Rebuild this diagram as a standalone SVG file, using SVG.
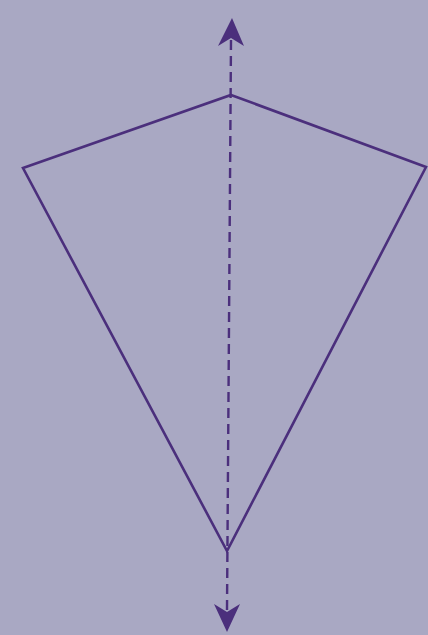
<svg xmlns="http://www.w3.org/2000/svg" width="428" height="635" viewBox="0 0 428 635">
  <style>
    .edge { fill: none; stroke: #4b2f7c; stroke-width: 2.6; stroke-linejoin: miter; }
    .axis { fill: none; stroke: #4b2f7c; stroke-width: 2.4; stroke-dasharray: 10 6; }
    .head { fill: #4b2f7c; }
  </style>
  <rect x="0" y="0" width="428" height="635" fill="#a9a8c3"/>
  <g id="kite">
    <polygon class="edge" points="231,95 426,167 227,551 23,168"/>
  </g>
  <g id="connectors">
    <line class="axis" x1="231" y1="40" x2="227" y2="610"/>
    <path class="head" d="M232,18 L244,46 L231,38 L218,46 Z"/>
    <path class="head" d="M227,632 L214,604 L227,612 L240,604 Z"/>
  </g>
</svg>
